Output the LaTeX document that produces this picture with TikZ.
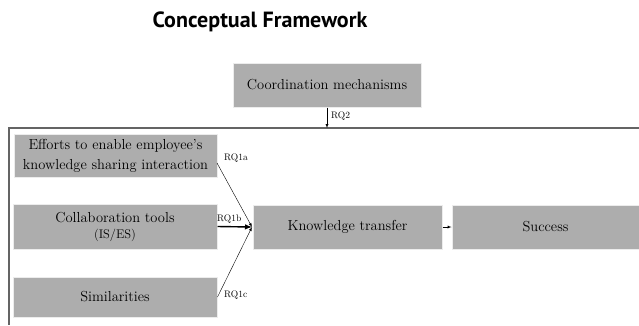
\documentclass[tikz,border=0pt]{standalone}
\usepackage{fontspec}
\usepackage{tikz}
\newfontfamily\titlefont{PT Sans}
\definecolor{boxgray}{RGB}{173,173,173}
\definecolor{framegray}{RGB}{100,100,100}

\begin{document}
\begin{tikzpicture}[x=1pt, y=-1pt, >=latex, box/.style={rectangle, fill=boxgray, draw=gray!15, line width=1pt, align=center, font=\fontsize{14.5}{20}\selectfont, inner sep=0pt}, rq/.style={font=\fontsize{9.5}{11}\selectfont, inner sep=0pt}]
			\useasboundingbox (0,0) rectangle (639,325);
			\node(T) at (260,22) {\titlefont\bfseries\fontsize{22}{26}\selectfont Conceptual Framework};
			\node[box, minimum width=188, minimum height=44](CM) at (327,85) {Coordination mechanisms};
			\node[box, minimum width=203, minimum height=43](E) at (115.5,155.5) {Efforts to enable employee's\\knowledge sharing interaction};
			\node[box, minimum width=204, minimum height=45](C) at (115,226.5) {Collaboration tools\\[-4pt]{\fontsize{12.5}{15}\selectfont (IS/ES)}};
			\node[box, minimum width=204, minimum height=40](S) at (115,297) {Similarities};
			\node[box, minimum width=189, minimum height=44](K) at (347.5,227) {Knowledge transfer};
			\node[box, minimum width=187, minimum height=44](Su) at (545.5,227) {Success};
			% frame around the model
			\draw[framegray, line width=1.2pt] (639,128) -- (9,128) -- (9,325);
			\coordinate(F) at (327,128);
			\coordinate(J) at (252,227);
			\coordinate(Eout) at (217,163);
			\draw[->](CM.south) -- (F);
			\draw[->](Eout) -- (J);
			\draw[->, line width=1.4pt](C.east) -- (J);
			\draw[->](S.east) -- (J);
			\draw[->](K.east) -- (Su.west);
			\node[rq, anchor=west](RQ2) at (331,116) {RQ2};
			\node[rq, anchor=west](RQ1a) at (224,158) {RQ1a};
			\node[rq, anchor=west](RQ1b) at (217,219) {RQ1b};
			\node[rq, anchor=west](RQ1c) at (224,295) {RQ1c};
		\end{tikzpicture}
\end{document}
